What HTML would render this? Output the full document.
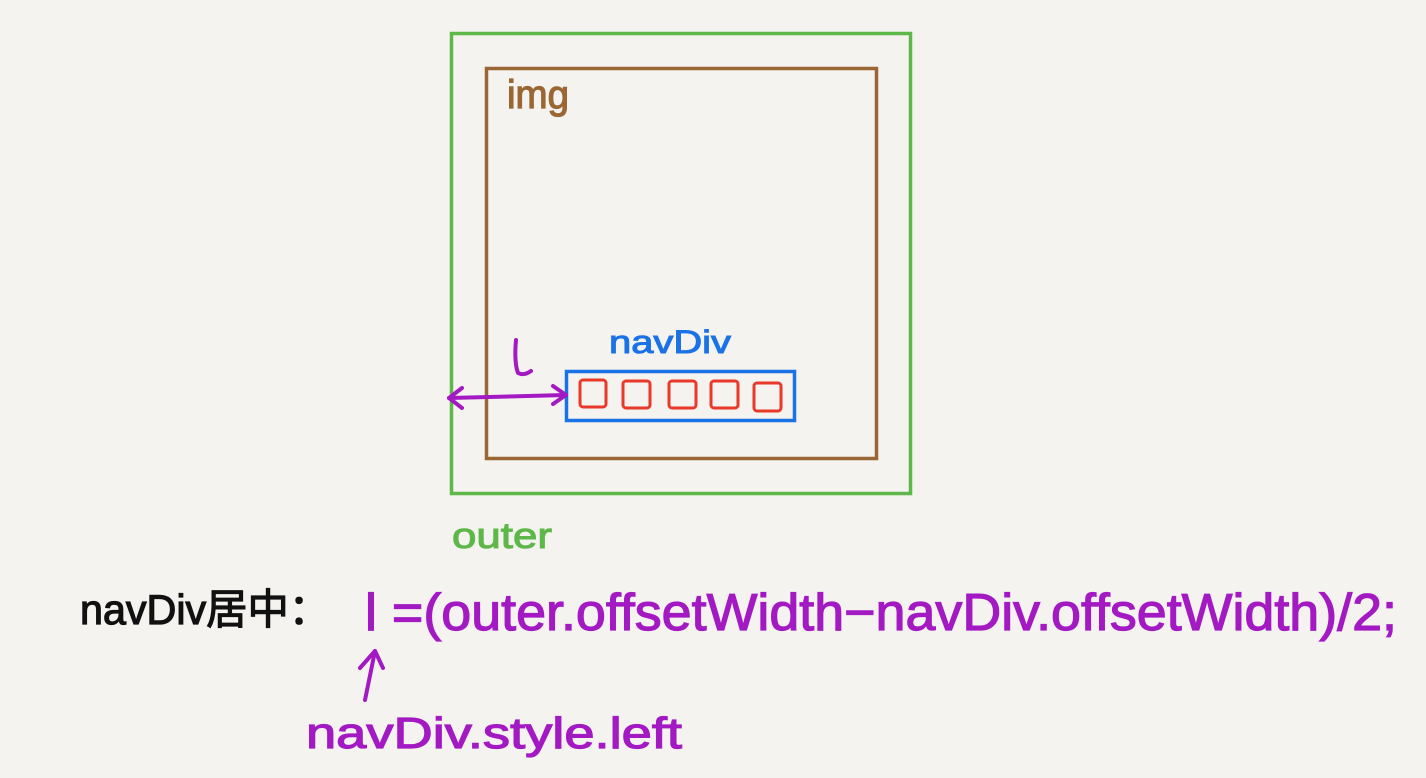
<!DOCTYPE html>
<html><head><meta charset="utf-8"><style>
html,body{margin:0;padding:0;background:#f5f3ef;}
svg{display:block}
text{font-family:"Liberation Sans","Noto Sans CJK SC",sans-serif;}
</style></head><body>
<svg width="1426" height="778" viewBox="0 0 1426 778" xmlns="http://www.w3.org/2000/svg">
<rect width="1426" height="778" fill="#f5f3ef"/>
<rect x="451.5" y="33.5" width="459" height="460" fill="none" stroke="#5db849" stroke-width="3.5"/>
<rect x="486.5" y="68.5" width="390" height="390" fill="none" stroke="#9a6633" stroke-width="3.5"/>
<text x="507" y="108" font-size="40" fill="#9a6633" stroke="#9a6633" stroke-width="1.2" textLength="62" lengthAdjust="spacingAndGlyphs">img</text>
<text x="609" y="353" font-size="32" fill="#1a72e6" stroke="#1a72e6" stroke-width="1" textLength="122" lengthAdjust="spacingAndGlyphs">navDiv</text>
<rect x="566.5" y="371.5" width="228" height="49" fill="none" stroke="#1a72e6" stroke-width="3.5"/>
<g fill="none" stroke="#e8392a" stroke-width="3" >
<rect x="580" y="380" width="26" height="27" rx="3"/>
<rect x="623" y="381" width="27" height="27" rx="3"/>
<rect x="669" y="381" width="27" height="27" rx="3"/>
<rect x="711" y="381" width="27" height="27" rx="3"/>
<rect x="754" y="383" width="27" height="28" rx="3"/>
</g>
<g stroke="#a319c2" stroke-width="4" fill="none" stroke-linecap="round" stroke-linejoin="round">
<path d="M449 398 L566 395"/>
<path d="M462 388 L449 398 L462 408"/>
<path d="M553 386 L566 395 L553 404"/>
<path d="M516 340 Q514 362 518 373 Q524 376 531 371"/>
<path d="M375 651 L365 700"/>
<path d="M360 668 L375 651 L383 668"/>
</g>
<text x="452" y="548" font-size="36" fill="#5db849" stroke="#5db849" stroke-width="1" textLength="100" lengthAdjust="spacingAndGlyphs">outer</text>
<text x="80" y="624" font-size="42" fill="#111" stroke="#111" stroke-width="1.2" textLength="250" lengthAdjust="spacingAndGlyphs">navDiv居中：</text>
<text x="365" y="630" font-size="52" fill="#a319c2" stroke="#a319c2" stroke-width="1.2" textLength="1032" lengthAdjust="spacingAndGlyphs">l =(outer.offsetWidth−navDiv.offsetWidth)/2;</text>
<text x="306" y="748" font-size="44" fill="#a319c2" stroke="#a319c2" stroke-width="1.2" textLength="376" lengthAdjust="spacingAndGlyphs">navDiv.style.left</text>
</svg>
</body></html>
